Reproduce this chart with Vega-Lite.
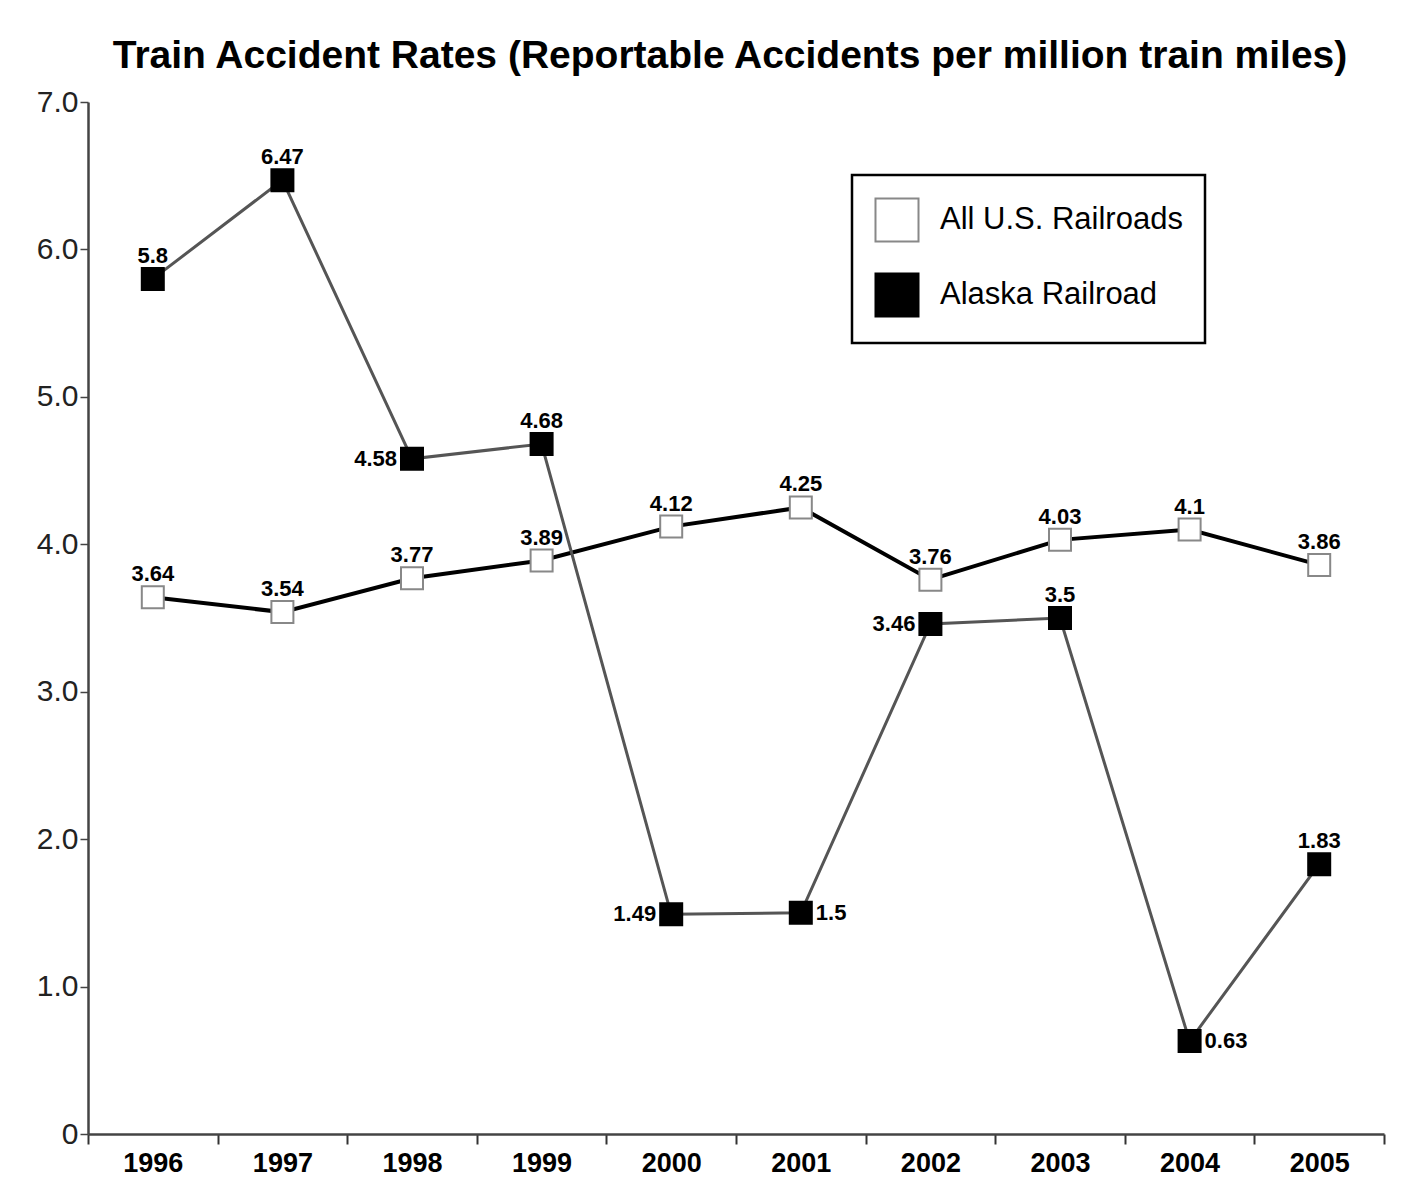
{
  "$schema": "https://vega.github.io/schema/vega-lite/v6.json",
  "autosize": {"type": "none"},
  "padding": {"left": 88, "top": 102, "right": 36, "bottom": 69},
  "width": 1296,
  "height": 1032,
  "background": "white",
  "config": {
    "font": "Liberation Sans, Arial, sans-serif",
    "view": {"stroke": null}
  },
  "title": {
    "text": "Train Accident Rates (Reportable Accidents per million train miles)",
    "font": "Liberation Sans, Arial, sans-serif",
    "fontSize": 39,
    "fontWeight": "bold",
    "color": "black",
    "anchor": "middle",
    "frame": "group",
    "baseline": "alphabetic",
    "offset": -20,
    "dx": -6
  },
  "data": {
    "values": [
      {"year": "1996", "series": "All U.S. Railroads", "rate": 3.64},
      {"year": "1997", "series": "All U.S. Railroads", "rate": 3.54},
      {"year": "1998", "series": "All U.S. Railroads", "rate": 3.77},
      {"year": "1999", "series": "All U.S. Railroads", "rate": 3.89},
      {"year": "2000", "series": "All U.S. Railroads", "rate": 4.12},
      {"year": "2001", "series": "All U.S. Railroads", "rate": 4.25},
      {"year": "2002", "series": "All U.S. Railroads", "rate": 3.76},
      {"year": "2003", "series": "All U.S. Railroads", "rate": 4.03},
      {"year": "2004", "series": "All U.S. Railroads", "rate": 4.1},
      {"year": "2005", "series": "All U.S. Railroads", "rate": 3.86},
      {"year": "1996", "series": "Alaska Railroad", "rate": 5.8},
      {"year": "1997", "series": "Alaska Railroad", "rate": 6.47},
      {"year": "1998", "series": "Alaska Railroad", "rate": 4.58},
      {"year": "1999", "series": "Alaska Railroad", "rate": 4.68},
      {"year": "2000", "series": "Alaska Railroad", "rate": 1.49},
      {"year": "2001", "series": "Alaska Railroad", "rate": 1.5},
      {"year": "2002", "series": "Alaska Railroad", "rate": 3.46},
      {"year": "2003", "series": "Alaska Railroad", "rate": 3.5},
      {"year": "2004", "series": "Alaska Railroad", "rate": 0.63},
      {"year": "2005", "series": "Alaska Railroad", "rate": 1.83}
    ]
  },
  "encoding": {
    "x": {
      "field": "year",
      "type": "ordinal",
      "scale": {"type": "band", "paddingInner": 0, "paddingOuter": 0},
      "axis": {
        "title": null,
        "labelAngle": 0,
        "tickBand": "extent",
        "tickSize": 10,
        "tickColor": "#333",
        "tickWidth": 2,
        "domainColor": "#444",
        "domainWidth": 2.5,
        "labelFontSize": 27,
        "labelFontWeight": "bold",
        "labelColor": "black",
        "labelPadding": 6,
        "labelFont": "Liberation Sans, Arial, sans-serif"
      }
    },
    "y": {
      "field": "rate",
      "type": "quantitative",
      "scale": {"domain": [0, 7], "nice": false, "zero": true},
      "axis": {
        "title": null,
        "values": [0, 1, 2, 3, 4, 5, 6, 7],
        "labelExpr": "datum.value == 0 ? '0' : format(datum.value, '.1f')",
        "grid": false,
        "tickSize": 8,
        "tickColor": "#444",
        "tickWidth": 1.5,
        "domainColor": "#444",
        "domainWidth": 2.5,
        "labelFontSize": 30,
        "labelColor": "#222",
        "labelPadding": 2,
        "labelFont": "Liberation Sans, Arial, sans-serif"
      }
    }
  },
  "layer": [
    {
      "mark": {"type": "line"},
      "encoding": {
        "detail": {"field": "series", "type": "nominal"},
        "stroke": {
          "condition": {"test": "datum.series == 'All U.S. Railroads'", "value": "black"},
          "value": "#555"
        },
        "strokeWidth": {
          "condition": {"test": "datum.series == 'All U.S. Railroads'", "value": 4},
          "value": 3
        }
      }
    },
    {
      "mark": {"type": "point", "shape": "square", "size": 484, "strokeWidth": 2, "opacity": 1, "filled": false},
      "encoding": {
        "fill": {
          "field": "series",
          "type": "nominal",
          "scale": {"domain": ["All U.S. Railroads", "Alaska Railroad"], "range": ["white", "black"]},
          "legend": {
            "title": null,
            "orient": "none",
            "legendX": 764,
            "legendY": 73,
            "symbolType": "square",
            "symbolSize": 1850,
            "symbolStrokeWidth": 2,
            "symbolOpacity": 1,
            "labelFontSize": 31,
            "labelLimit": 400,
            "labelColor": "black",
            "labelFont": "Liberation Sans, Arial, sans-serif",
            "labelOffset": 20,
            "rowPadding": 23,
            "padding": 22,
            "strokeColor": "black",
            "fillColor": "white",
            "encode": {"legend": {"update": {"strokeWidth": {"value": 2.5}}}}
          }
        },
        "stroke": {
          "field": "series",
          "type": "nominal",
          "scale": {"domain": ["All U.S. Railroads", "Alaska Railroad"], "range": ["#888", "black"]},
          "legend": null
        }
      }
    },
    {
      "transform": [
        {"filter": "!(datum.series == 'Alaska Railroad' && indexof(['1998','2000','2002','2001','2004'], datum.year) >= 0)"}
      ],
      "mark": {"type": "text", "baseline": "alphabetic", "dy": -16, "fontSize": 22, "fontWeight": "bold", "color": "black"},
      "encoding": {"text": {"field": "rate", "type": "nominal"}}
    },
    {
      "transform": [
        {"filter": "datum.series == 'Alaska Railroad' && indexof(['1998','2000','2002'], datum.year) >= 0"}
      ],
      "mark": {"type": "text", "align": "right", "baseline": "middle", "dx": -15, "fontSize": 22, "fontWeight": "bold", "color": "black"},
      "encoding": {"text": {"field": "rate", "type": "nominal"}}
    },
    {
      "transform": [
        {"filter": "datum.series == 'Alaska Railroad' && indexof(['2001','2004'], datum.year) >= 0"}
      ],
      "mark": {"type": "text", "align": "left", "baseline": "middle", "dx": 15, "fontSize": 22, "fontWeight": "bold", "color": "black"},
      "encoding": {"text": {"field": "rate", "type": "nominal"}}
    }
  ]
}
